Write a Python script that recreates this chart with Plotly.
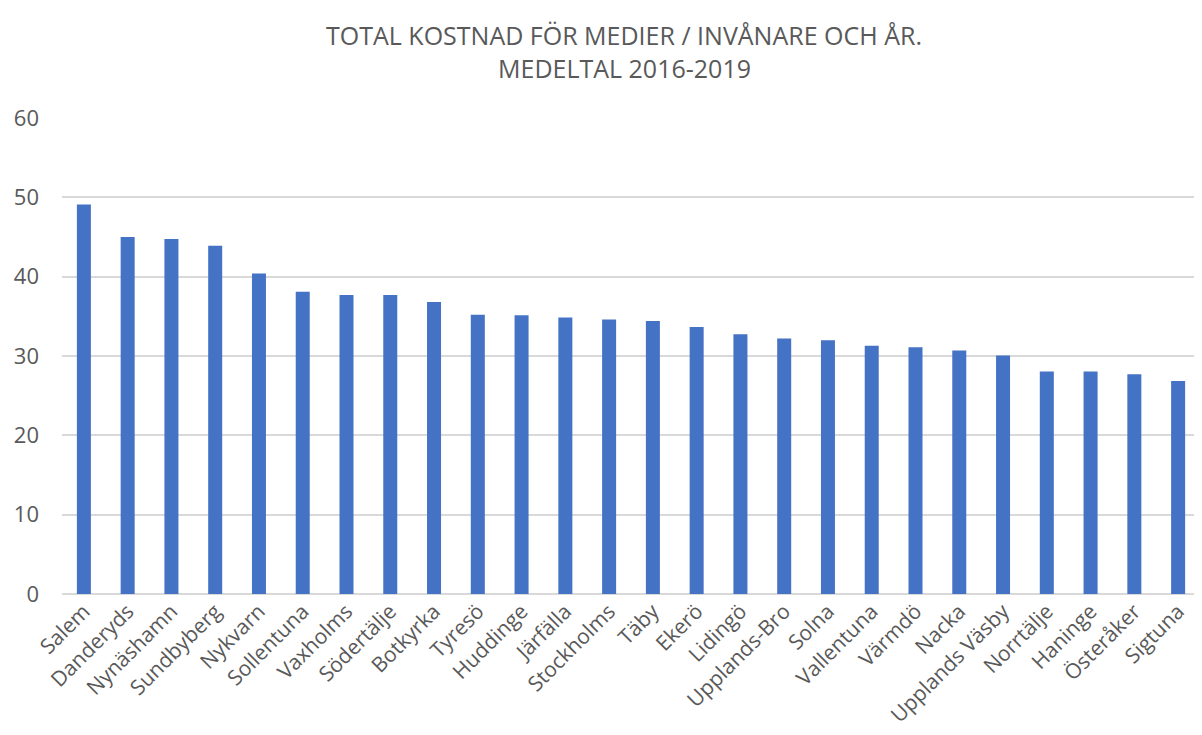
import plotly.graph_objects as go

kommuner = ["Salem", "Danderyds", "Nynäshamn", "Sundbyberg", "Nykvarn", "Sollentuna",
            "Vaxholms", "Södertälje", "Botkyrka", "Tyresö", "Huddinge", "Järfälla",
            "Stockholms", "Täby", "Ekerö", "Lidingö", "Upplands-Bro", "Solna",
            "Vallentuna", "Värmdö", "Nacka", "Upplands Väsby", "Norrtälje", "Haninge",
            "Österåker", "Sigtuna"]
kostnad = [49.1, 45.0, 44.75, 43.9, 40.4, 38.1,
           37.7, 37.7, 36.8, 35.2, 35.15, 34.85,
           34.6, 34.4, 33.65, 32.75, 32.2, 32.0,
           31.3, 31.1, 30.7, 30.05, 28.05, 28.05,
           27.7, 26.85]
y_ticks = [0, 10, 20, 30, 40, 50, 60]
title_lines = ["TOTAL KOSTNAD FÖR MEDIER / INVÅNARE OCH ÅR.", "MEDELTAL 2016-2019"]

fig = go.Figure(go.Bar(x=kommuner, y=kostnad, marker_color="#4472C4",
                       marker_line_width=0))

grey = "#595959"
fig.update_layout(
    width=1194, height=727,
    paper_bgcolor="white", plot_bgcolor="white",
    margin=dict(l=54, r=2, t=110, b=141),
    bargap=0.68,
    showlegend=False,
    font=dict(family="Open Sans", color=grey),
)
for txt, yy in zip(title_lines, [1.174, 1.105]):
    fig.add_annotation(text=txt, xref="paper", yref="paper", x=0.494, y=yy,
                       xanchor="center", yanchor="middle", showarrow=False,
                       font=dict(family="Open Sans", size=25, color=grey))

fig.update_xaxes(tickangle=-45, tickfont=dict(size=21, color=grey),
                 showgrid=False, showline=False, ticks="")
fig.update_yaxes(range=[0, 60], tickvals=y_ticks, showgrid=True, gridcolor="#d9d9d9",
                 gridwidth=1.5, zeroline=True, zerolinecolor="#d9d9d9", zerolinewidth=1.5,
                 tickfont=dict(size=22, color=grey), ticklabelstandoff=22,
                 showline=False, ticks="")

fig.write_html("out.html")
